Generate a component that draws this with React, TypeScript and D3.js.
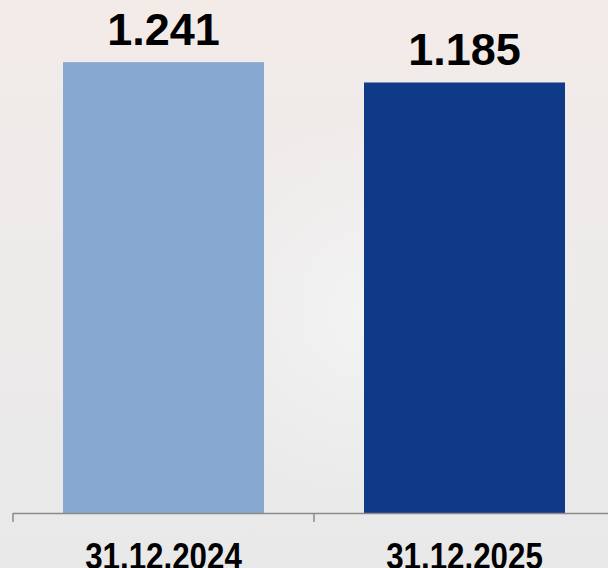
import React from "react";
import * as d3 from "d3";

const categories: string[] = ["31.12.2024", "31.12.2025"];
const values: number[] = [1241, 1185];
const valueLabels: string[] = ["1.241", "1.185"];
const barColors: string[] = ["#86a8d1", "#0f3a87"];

const W = 608;
const H = 568;
const baseY = 513;

export default function App() {
  const x = d3
    .scaleBand<string>()
    .domain(categories)
    .range([13, 615])
    .paddingInner(0.3322)
    .paddingOuter(0.1661);
  const y = d3.scaleLinear().domain([0, 1400]).range([baseY, baseY - 1400 * 0.3633]);
  const step = x.step();
  const tickXs = [13, 13 + step, 13 + 2 * step];

  return (
    <svg
      width={W}
      height={H}
      style={{ position: "absolute", left: 0, top: 0, display: "block" }}
      fontFamily="'Liberation Sans', Arial, sans-serif"
    >
      <defs>
        <linearGradient id="bg" x1="0" y1="0" x2="0" y2="1">
          <stop offset="0" stopColor="#f3ebe8" />
          <stop offset="0.35" stopColor="#eeebea" />
          <stop offset="1" stopColor="#e9e9e9" />
        </linearGradient>
        <radialGradient id="glow" cx="0.62" cy="0.55" r="0.35">
          <stop offset="0" stopColor="#f4f4f4" stopOpacity="0.9" />
          <stop offset="1" stopColor="#f4f4f4" stopOpacity="0" />
        </radialGradient>
      </defs>
      <rect x={0} y={0} width={W} height={H} fill="url(#bg)" />
      <rect x={0} y={0} width={W} height={H} fill="url(#glow)" />
      {categories.map((c, i) => (
        <rect
          key={c}
          x={x(c)}
          y={y(values[i])}
          width={x.bandwidth()}
          height={baseY - y(values[i])}
          fill={barColors[i]}
        />
      ))}
      <line x1={13} x2={W} y1={baseY + 0.5} y2={baseY + 0.5} stroke="#8a8a8a" strokeWidth={1.5} />
      {tickXs.map((tx, i) => (
        <line key={i} x1={tx} x2={tx} y1={baseY} y2={baseY + 9} stroke="#8a8a8a" strokeWidth={1.5} />
      ))}
      {categories.map((c, i) => (
        <text
          key={"v" + c}
          x={(x(c) as number) + x.bandwidth() / 2}
          y={y(values[i]) - 17}
          textAnchor="middle"
          fontWeight="bold"
          fontSize={45}
          fill="#000"
        >
          {valueLabels[i]}
        </text>
      ))}
      {categories.map((c, i) => (
        <text
          key={"c" + c}
          transform={`translate(${(x(c) as number) + x.bandwidth() / 2},569) scale(1,1.2)`}
          textAnchor="middle"
          fontWeight="bold"
          fontSize={31.3}
          fill="#000"
        >
          {c}
        </text>
      ))}
    </svg>
  );
}
